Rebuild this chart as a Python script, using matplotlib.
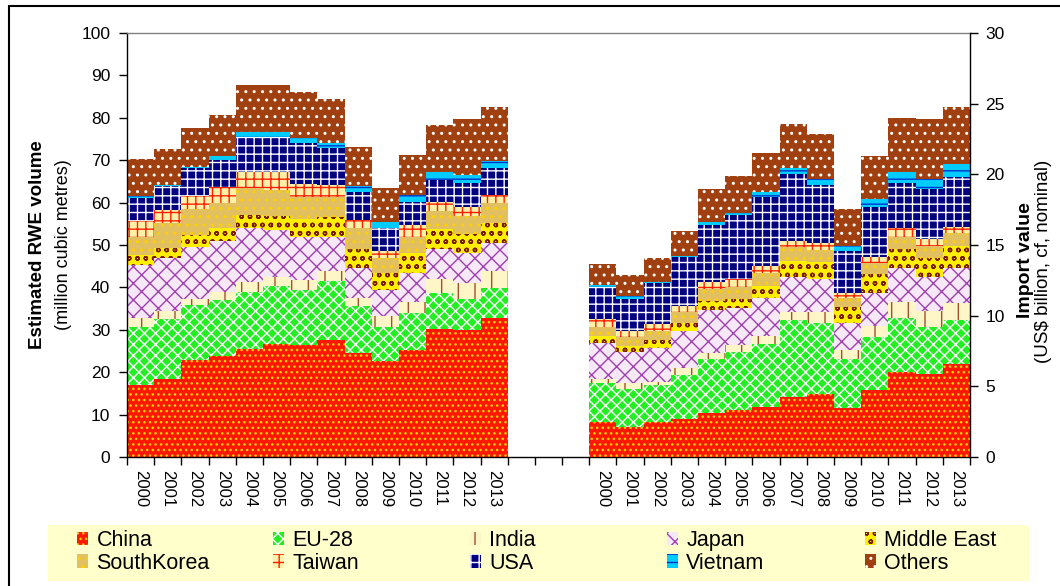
import matplotlib
matplotlib.use("Agg")
import matplotlib.pyplot as plt
from matplotlib.patches import Patch, Rectangle
import numpy as np

plt.rcParams['font.family'] = ['Liberation Sans', 'DejaVu Sans']
plt.rcParams['hatch.linewidth'] = 1.0

years = ['2000', '2001', '2002', '2003', '2004', '2005', '2006',
         '2007', '2008', '2009', '2010', '2011', '2012', '2013']
series = ['China', 'EU-28', 'India', 'Japan', 'Middle East',
          'SouthKorea', 'Taiwan', 'USA', 'Vietnam', 'Others']

# Estimated RWE volume (million cubic metres)
vol_china = [17.0, 18.4, 22.9, 23.8, 25.4, 26.6, 26.3, 27.6, 24.6, 22.6, 25.2, 30.2, 30.0, 32.9]
vol_eu = [13.7, 14.1, 12.9, 13.2, 13.4, 13.7, 13.2, 13.9, 10.9, 8.1, 8.7, 8.4, 7.2, 6.9]
vol_india = [2.0, 1.9, 1.4, 1.8, 2.5, 2.2, 2.2, 2.4, 1.9, 2.6, 2.7, 3.3, 3.8, 4.1]
vol_japan = [12.6, 12.6, 12.4, 12.1, 12.6, 11.0, 10.1, 7.9, 7.1, 6.1, 6.7, 7.1, 7.0, 6.5]
vol_me = [2.3, 2.4, 2.8, 3.0, 3.2, 3.3, 4.3, 4.9, 4.5, 4.1, 4.9, 4.8, 4.6, 4.9]
vol_korea = [4.4, 5.9, 6.0, 6.1, 6.3, 6.2, 5.3, 4.7, 4.9, 3.4, 3.8, 4.2, 4.3, 4.5]
vol_taiwan = [3.7, 3.0, 3.2, 3.6, 3.7, 4.1, 3.0, 2.8, 2.0, 1.8, 2.6, 2.2, 2.1, 2.0]
vol_usa = [5.3, 5.5, 6.5, 6.4, 8.4, 8.4, 9.7, 8.6, 6.7, 5.4, 5.6, 5.1, 5.6, 6.3]
vol_vietnam = [0.6, 0.4, 0.3, 1.0, 1.1, 1.1, 1.1, 1.2, 1.3, 1.4, 1.6, 1.8, 1.9, 1.7]
vol_others = [8.6, 8.4, 9.1, 9.7, 11.1, 11.1, 10.8, 10.4, 9.3, 8.0, 9.4, 11.2, 13.2, 12.7]

# Import value (US$ billion, cf, nominal)
val_china = [2.50, 2.15, 2.50, 2.69, 3.09, 3.33, 3.56, 4.27, 4.46, 3.45, 4.74, 6.04, 5.87, 6.58]
val_eu = [2.71, 2.64, 2.60, 3.11, 3.82, 4.12, 4.44, 5.43, 5.05, 3.49, 3.78, 3.82, 3.31, 3.12]
val_india = [0.29, 0.42, 0.23, 0.48, 0.43, 0.48, 0.56, 0.58, 0.73, 0.63, 0.77, 1.13, 1.17, 1.18]
val_japan = [2.59, 2.24, 2.41, 2.64, 3.06, 2.59, 2.72, 2.48, 2.34, 1.94, 2.29, 2.36, 2.41, 2.52]
val_me = [0.47, 0.41, 0.54, 0.54, 0.64, 0.66, 0.82, 1.13, 1.24, 1.08, 1.35, 1.37, 1.35, 1.53]
val_korea = [0.62, 0.66, 0.66, 0.82, 0.83, 0.87, 0.94, 0.99, 0.83, 0.64, 0.78, 0.87, 0.84, 0.90]
val_taiwan = [0.56, 0.40, 0.47, 0.41, 0.49, 0.53, 0.50, 0.43, 0.47, 0.35, 0.47, 0.59, 0.48, 0.47]
val_usa = [2.31, 2.26, 2.88, 3.44, 4.06, 4.55, 4.88, 4.72, 4.13, 3.02, 3.53, 3.23, 3.52, 3.54]
val_vietnam = [0.12, 0.21, 0.12, 0.09, 0.23, 0.12, 0.36, 0.40, 0.42, 0.35, 0.53, 0.74, 0.72, 0.90]
val_others = [1.49, 1.49, 1.70, 1.77, 2.32, 2.64, 2.71, 3.14, 3.19, 2.58, 3.08, 3.86, 4.25, 4.01]

volume = [vol_china, vol_eu, vol_india, vol_japan, vol_me,
          vol_korea, vol_taiwan, vol_usa, vol_vietnam, vol_others]
value = [val_china, val_eu, val_india, val_japan, val_me,
         val_korea, val_taiwan, val_usa, val_vietnam, val_others]

# (face colour, hatch colour, hatch)
styles = [
    ('#FF1800', '#FFD000', '...'),   # China
    ('#22EE22', '#FFFFFF', 'xxx'),   # EU-28
    ('#FFF6C8', '#A0522D', '|'),     # India
    ('#F6E8F6', '#A040B0', 'xx'),    # Japan
    ('#FFEE00', '#7A1A00', 'oo'),    # Middle East
    ('#E2C060', '#FFD000', '..'),    # SouthKorea
    ('#FFF0A8', '#FF2000', '++'),    # Taiwan
    ('#000080', '#FFFFFF', '++'),    # USA
    ('#00CCFF', '#0033CC', '--'),    # Vietnam
    ('#A04010', '#FFFFFF', '..'),    # Others
]

W, H = 1060, 586
fig = plt.figure(figsize=(W / 100, H / 100), dpi=100)
ax = fig.add_axes([127 / W, 129 / H, 843 / W, 424 / H])
ax2 = ax.twinx()

n = len(years)
x_left = np.arange(n)
x_right = np.arange(n) + n + 3

bottom = np.zeros(n)
for vals, (fc, hc, hatch) in zip(volume, styles):
    ax.bar(x_left, vals, width=1.0, bottom=bottom, align='edge',
           facecolor=fc, edgecolor=hc, hatch=hatch, linewidth=0)
    bottom += np.array(vals)

bottom = np.zeros(n)
for vals, (fc, hc, hatch) in zip(value, styles):
    ax2.bar(x_right, vals, width=1.0, bottom=bottom, align='edge',
            facecolor=fc, edgecolor=hc, hatch=hatch, linewidth=0)
    bottom += np.array(vals)

total_slots = 2 * n + 3
ax.set_xlim(0, total_slots)
ax.set_ylim(0, 100)
ax2.set_ylim(0, 30)
ax.set_yticks(np.arange(0, 101, 10))
ax2.set_yticks(np.arange(0, 31, 5))

centers = list(x_left + 0.5) + list(x_right + 0.5)
ax.set_xticks(centers)
ax.set_xticklabels(years + years, rotation=270, fontsize=12)
ax.set_xticks(np.arange(0, total_slots + 1), minor=True)
ax.tick_params(axis='x', which='major', length=0, pad=9)
ax.tick_params(axis='x', which='minor', length=6, width=1, direction='out')
ax.tick_params(axis='y', labelsize=12.5, length=6, width=1, direction='out', pad=6)
ax2.tick_params(axis='y', labelsize=12.5, length=6, width=1, direction='out', pad=5)

for a in (ax, ax2):
    for s in a.spines.values():
        s.set_linewidth(1.0)
ax.spines['top'].set_color('#808080')
ax.spines['right'].set_visible(False)
ax2.spines['top'].set_visible(False)
ax2.spines['left'].set_visible(False)
ax2.spines['bottom'].set_visible(False)

# axis titles
fig.text(38 / W, 1 - 245 / H, 'Estimated RWE volume', rotation=90,
         fontsize=13.5, fontweight='bold', ha='center', va='center')
fig.text(63 / W, 1 - 245 / H, '(million cubic metres)', rotation=90,
         fontsize=13, ha='center', va='center')
fig.text(1025 / W, 1 - 260 / H, 'Import value', rotation=90,
         fontsize=14, fontweight='bold', ha='center', va='center')
fig.text(1043 / W, 1 - 261 / H, '(US$ billion, cf, nominal)', rotation=90,
         fontsize=13.5, ha='center', va='center')

# legend background
fig.patches.append(Rectangle((48 / W, 1 - 581 / H), (1029 - 48) / W, 56 / H,
                             transform=fig.transFigure, facecolor='#FFFFCC',
                             edgecolor='none', zorder=0))
# figure border
fig.patches.append(Rectangle((9 / W, -0.05), 1.2, 1.05 - 6 / H,
                             transform=fig.transFigure, facecolor='none',
                             edgecolor='black', linewidth=1.5, zorder=5))

handles = [Patch(facecolor=fc, edgecolor=hc, hatch=h, linewidth=0)
           for fc, hc, h in styles]
col_x = [77, 273, 470, 667, 865]
for j in range(5):
    idx = [j, j + 5]
    fig.legend([handles[i] for i in idx], [series[i] for i in idx],
               loc='upper left', bbox_to_anchor=(col_x[j] / W, 1 - 530 / H),
               frameon=False, fontsize=15.5, handlelength=0.5,
               handleheight=0.6, handletextpad=0.4, labelspacing=0.08,
               borderpad=0, borderaxespad=0)

fig.savefig('out.png', dpi=100)
